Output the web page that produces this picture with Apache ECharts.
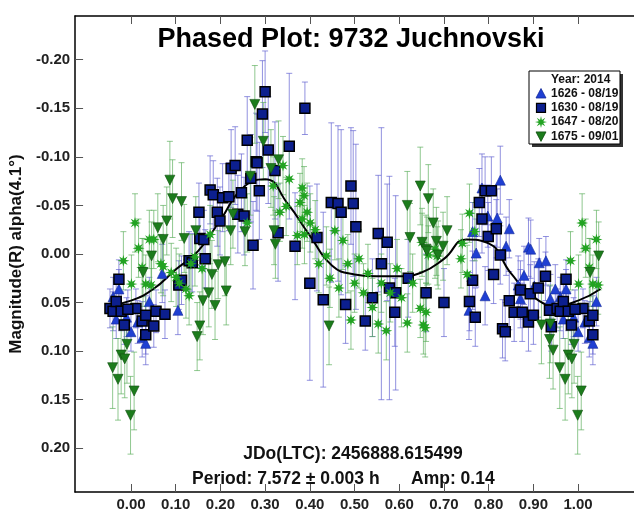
<!DOCTYPE html>
<html>
<head>
<meta charset="utf-8">
<script src="https://cdn.jsdelivr.net/npm/echarts@6/dist/echarts.min.js"></script>
<style>
html,body{margin:0;padding:0;background:#fff;}
#chart{width:634px;height:512px;}
</style>
</head>
<body>
<div id="chart"></div>
<script>
// Phase ticks and magnitude ticks
const phaseTicks = [0, 0.1, 0.2, 0.3, 0.4, 0.5, 0.6, 0.7, 0.8, 0.9, 1.0];
const magTicks = [-0.20, -0.15, -0.10, -0.05, 0.00, 0.05, 0.10, 0.15, 0.20];

// Sessions: [phase, magnitude, error]
const s1626 = [
  [0.000,0.080,0.020],[0.015,0.070,0.022],[0.025,0.086,0.020],[0.033,0.092,0.022],[0.041,0.049,0.025],
  [0.070,0.020,0.030],[0.105,0.058,0.025],
  [0.756,0.058,0.030],[0.764,-0.023,0.030],[0.772,-0.001,0.035],[0.785,-0.068,0.035],[0.792,0.043,0.030],
  [0.798,-0.039,0.032],[0.819,-0.037,0.030],[0.826,-0.076,0.035],[0.839,-0.008,0.030],[0.846,-0.026,0.030],
  [0.866,0.032,0.030],[0.871,0.046,0.030],[0.879,0.022,0.030],[0.889,-0.007,0.030],[0.894,-0.005,0.030],
  [0.902,0.033,0.025],[0.913,0.009,0.025],[0.928,0.007,0.025],[0.938,0.046,0.025],[0.949,0.036,0.025],
  [0.960,0.044,0.020],[0.967,0.067,0.020],[0.973,0.036,0.020],[0.990,0.065,0.020]
];

const s1630 = [
  [0.011,0.056,0.020],[0.025,0.069,0.020],[0.033,0.063,0.020],[0.033,0.083,0.020],[0.051,0.074,0.022],
  [0.056,0.059,0.022],[0.076,0.062,0.025],[0.107,0.032,0.025],[0.113,0.027,0.025],[0.130,0.007,0.030],
  [0.137,0.009,0.030],[0.152,-0.043,0.030],[0.154,-0.016,0.030],[0.163,-0.015,0.030],[0.166,0.005,0.030],
  [0.177,-0.066,0.035],[0.184,-0.061,0.035],[0.193,-0.043,0.035],[0.199,-0.034,0.035],[0.205,-0.058,0.035],
  [0.219,-0.059,0.035],[0.224,-0.088,0.040],[0.233,-0.091,0.040],[0.239,-0.041,0.040],[0.247,-0.063,0.040],
  [0.253,-0.039,0.040],[0.260,-0.117,0.045],[0.268,-0.078,0.045],[0.273,-0.009,0.045],[0.280,-0.095,0.050],
  [0.282,-0.094,0.050],[0.287,-0.065,0.050],[0.294,-0.144,0.055],[0.300,-0.167,0.042],[0.307,-0.107,0.055],
  [0.322,-0.086,0.050],[0.329,-0.022,0.050],[0.354,-0.111,0.075],[0.367,-0.008,0.055],[0.389,-0.150,0.027],
  [0.400,0.030,0.100],[0.416,-0.017,0.055],[0.430,0.047,0.090],[0.448,-0.053,0.082],[0.463,-0.052,0.080],
  [0.470,-0.043,0.085],[0.480,0.052,0.040],[0.492,-0.070,0.060],[0.497,-0.052,0.075],[0.503,-0.028,0.085],
  [0.524,0.069,0.030],[0.540,0.045,0.040],[0.553,-0.021,0.060],[0.560,0.010,0.140],[0.573,-0.012,0.060],
  [0.578,0.035,0.115],[0.590,0.060,0.035],[0.592,0.040,0.100],
  [0.620,0.025,0.040],[0.660,0.040,0.040],[0.700,0.050,0.035],[0.757,0.049,0.030],[0.764,0.027,0.030],
  [0.770,0.065,0.030],[0.779,-0.053,0.035],[0.785,-0.036,0.035],[0.792,-0.065,0.035],[0.799,-0.018,0.035],
  [0.806,-0.065,0.035],[0.811,0.021,0.030],[0.817,-0.026,0.030],[0.826,0.001,0.030],[0.831,0.077,0.030],
  [0.837,0.080,0.030],[0.846,0.048,0.030],[0.857,0.060,0.030],[0.871,0.037,0.030],[0.875,0.060,0.030],
  [0.889,0.070,0.030],[0.893,0.041,0.030],[0.900,0.063,0.030],[0.911,0.035,0.030],[0.927,0.023,0.025],
  [0.936,0.058,0.025],[0.940,0.075,0.025],[0.953,0.056,0.020],[0.960,0.059,0.020],[0.967,0.049,0.020],
  [0.973,0.026,0.020],[0.978,0.059,0.020],[0.985,0.073,0.020],[0.993,0.057,0.020]
];

const s1647 = [
  [0.001,0.031,0.030],[0.009,-0.032,0.030],[0.017,-0.006,0.030],[0.025,0.014,0.030],[0.033,0.031,0.030],
  [0.041,-0.015,0.030],[0.045,0.032,0.030],[0.051,-0.015,0.030],[0.067,0.010,0.030],[0.072,0.013,0.030],
  [0.090,0.019,0.030],[0.101,0.024,0.030],[0.108,0.030,0.030],[0.123,0.036,0.030],[0.130,0.043,0.030],
  [0.134,0.010,0.030],[0.143,0.003,0.030],[0.159,0.015,0.030],[0.177,-0.020,0.030],[0.260,-0.032,0.030],
  [0.318,-0.070,0.030],[0.333,-0.043,0.030],[0.340,-0.091,0.030],[0.347,-0.049,0.030],[0.354,-0.077,0.030],
  [0.372,-0.019,0.030],[0.378,-0.053,0.030],[0.383,-0.068,0.030],[0.383,-0.036,0.030],[0.387,-0.060,0.030],
  [0.388,-0.020,0.030],[0.394,-0.043,0.030],[0.401,-0.032,0.030],[0.412,-0.025,0.030],[0.420,0.010,0.030],
  [0.437,0.002,0.030],[0.445,0.025,0.030],[0.456,-0.024,0.030],[0.465,0.035,0.030],[0.474,-0.014,0.030],
  [0.485,0.010,0.030],[0.492,0.068,0.030],[0.500,0.030,0.030],[0.510,0.005,0.030],[0.520,0.040,0.030],
  [0.530,0.020,0.030],[0.540,0.055,0.030],[0.553,0.072,0.030],[0.560,0.030,0.030],[0.571,0.079,0.030],
  [0.580,0.040,0.030],[0.595,0.015,0.030],[0.605,0.045,0.030],[0.618,0.071,0.030],[0.630,0.030,0.030],
  [0.647,0.056,0.030],[0.651,-0.012,0.030],[0.654,0.073,0.030],[0.658,0.076,0.030],[0.660,0.060,0.030],
  [0.665,0.001,0.030],[0.680,-0.005,0.030],[0.685,0.002,0.030],[0.738,0.005,0.030],[0.741,-0.011,0.030],
  [0.752,0.021,0.030],[0.757,-0.042,0.030],[0.769,-0.023,0.030],[0.983,0.007,0.030]
];

const s1675 = [
  [0.007,0.141,0.040],[0.027,0.019,0.035],[0.046,0.002,0.035],[0.060,-0.027,0.035],[0.072,-0.015,0.035],
  [0.080,-0.034,0.035],[0.087,-0.076,0.040],[0.093,-0.057,0.040],[0.113,-0.054,0.040],[0.119,-0.016,0.035],
  [0.145,-0.024,0.035],[0.148,0.085,0.035],[0.154,0.074,0.035],[0.161,0.048,0.035],[0.174,0.040,0.035],
  [0.181,0.021,0.035],[0.188,0.053,0.035],[0.195,0.011,0.035],[0.210,0.008,0.035],[0.213,0.038,0.035],
  [0.223,-0.024,0.035],[0.228,-0.041,0.035],[0.255,-0.023,0.035],[0.267,-0.080,0.040],[0.277,-0.154,0.040],
  [0.296,-0.116,0.040],[0.313,-0.088,0.040],[0.320,-0.024,0.035],[0.323,-0.010,0.035],[0.330,-0.097,0.040],
  [0.443,0.074,0.040],[0.618,-0.050,0.035],[0.624,-0.017,0.035],[0.647,-0.070,0.040],[0.651,-0.012,0.035],
  [0.660,-0.005,0.035],[0.662,-0.003,0.035],[0.665,-0.057,0.035],[0.676,-0.032,0.035],[0.683,-0.013,0.035],
  [0.687,0.001,0.035],[0.698,-0.008,0.035],[0.707,-0.024,0.035],[0.918,0.073,0.040],[0.936,0.088,0.040],
  [0.938,0.072,0.040],[0.944,0.099,0.040],[0.959,0.117,0.042],[0.971,0.129,0.042],[0.978,0.104,0.040],
  [0.986,0.108,0.040],[0.991,0.093,0.040],[0.999,0.166,0.040]
];

// Fourier fit, read at phase steps of 0.05 from -0.05 to 1.05
const fitPhase = [-0.05,0.00,0.05,0.10,0.15,0.20,0.25,0.30,0.35,0.40,0.45,0.50,0.55,0.60,0.65,0.70,0.75,0.80,0.85,0.90,0.95,1.00,1.05];
const fitMag   = [0.053,0.048,0.036,0.016,-0.003,-0.035,-0.068,-0.077,-0.052,-0.019,0.012,0.021,0.023,0.023,0.019,0.005,-0.015,-0.011,0.020,0.044,0.053,0.048,0.036];

const sessionNames = ['1626 - 08/19', '1630 - 08/19', '1647 - 08/20', '1675 - 09/01'];

// Points are shown over the phase window -0.05 .. 1.05 (repeated past the cycle edges)
function wrapRows(rows) {
  const out = [];
  rows.forEach(r => {
    [r[0] - 1, r[0], r[0] + 1].forEach(q => {
      if (q >= -0.05 && q <= 1.05) out.push([q, r[1], r[2]]);
    });
  });
  return out;
}

function starPath(n, rIn) {
  let d = '';
  for (let i = 0; i < 2 * n; i++) {
    const r = i % 2 ? rIn : 1;
    const a = Math.PI * i / n - Math.PI / 2;
    d += (i ? 'L' : 'M') + (50 + 50 * r * Math.cos(a)).toFixed(2) + ' ' + (50 + 50 * r * Math.sin(a)).toFixed(2);
  }
  return d + 'Z';
}
const STAR = 'path://' + starPath(8, 0.42);

function errorBars(rows, color, z) {
  return {
    type: 'custom', z: z, silent: true, data: rows,
    encode: { x: 0, y: 1 },
    renderItem: function (params, api) {
      const x = api.value(0), y = api.value(1), e = api.value(2);
      const a = api.coord([x, y - e]), b = api.coord([x, y + e]);
      const w = 3;
      const style = { stroke: color, lineWidth: 1 };
      return {
        type: 'group',
        children: [
          { type: 'line', shape: { x1: a[0], y1: a[1], x2: b[0], y2: b[1] }, style: style },
          { type: 'line', shape: { x1: a[0] - w, y1: a[1], x2: a[0] + w, y2: a[1] }, style: style },
          { type: 'line', shape: { x1: b[0] - w, y1: b[1], x2: b[0] + w, y2: b[1] }, style: style }
        ]
      };
    }
  };
}

const COL = {
  tri: '#1f3fd2', triEdge: '#142a9a',
  sq: '#0c1f8e', sqEdge: '#000000',
  star: '#22a322',
  dtri: '#1c7c1c', dtriEdge: '#0f4f0f',
  blueBar: 'rgba(100,100,210,0.7)',
  greenBar: 'rgba(85,170,85,0.65)'
};

const d1626 = wrapRows(s1626), d1630 = wrapRows(s1630), d1647 = wrapRows(s1647), d1675 = wrapRows(s1675);
const fitData = fitPhase.map((p, i) => [p, fitMag[i]]);

const FONT = 'Liberation Sans, Arial, sans-serif';
const chart = echarts.init(document.getElementById('chart'), null, { renderer: 'canvas' });

const axisLine = { show: true, onZero: false, lineStyle: { color: '#000', width: 1.5 } };

// Legend box drawn as graphics
const LX = 529, LY = 71, LW = 91, LH = 73;
const legendRows = [93.5, 107.8, 122.1, 136.4];
function legendSymbol(i, cx, cy) {
  if (i === 0) return { type: 'polygon', shape: { points: [[cx, cy - 5], [cx + 5, cy + 4.5], [cx - 5, cy + 4.5]] }, style: { fill: COL.tri, stroke: COL.triEdge, lineWidth: 0.8 } };
  if (i === 1) return { type: 'rect', shape: { x: cx - 4.5, y: cy - 4.5, width: 9, height: 9 }, style: { fill: COL.sq, stroke: '#000', lineWidth: 1.2 } };
  if (i === 2) {
    const pts = [];
    for (let k = 0; k < 16; k++) {
      const r = k % 2 ? 2.4 : 6, a = Math.PI * k / 8 - Math.PI / 2;
      pts.push([cx + r * Math.cos(a), cy + r * Math.sin(a)]);
    }
    return { type: 'polygon', shape: { points: pts }, style: { fill: COL.star } };
  }
  return { type: 'polygon', shape: { points: [[cx - 5, cy - 4.5], [cx + 5, cy - 4.5], [cx, cy + 5]] }, style: { fill: COL.dtri, stroke: COL.dtriEdge, lineWidth: 0.8 } };
}
const legendGraphics = [
  { type: 'rect', shape: { x: LX + 3, y: LY + 3, width: LW, height: LH }, style: { fill: '#333' }, z: 100 },
  { type: 'rect', shape: { x: LX, y: LY, width: LW, height: LH }, style: { fill: '#fff', stroke: '#000', lineWidth: 1 }, z: 101 },
  { type: 'text', x: 551, y: 79.5, style: { text: 'Year: 2014', font: 'bold 12px ' + FONT, fill: '#111', textVerticalAlign: 'middle' }, z: 102 }
];
sessionNames.forEach((name, i) => {
  const g = legendSymbol(i, 541, legendRows[i]);
  g.z = 102;
  legendGraphics.push(g);
  legendGraphics.push({ type: 'text', x: 551, y: legendRows[i], style: { text: name, font: 'bold 12px ' + FONT, fill: '#111', textVerticalAlign: 'middle' }, z: 102 });
});

const option = {
  animation: false,
  backgroundColor: '#fff',
  grid: { left: 68, top: 16, width: 579, height: 479, containLabel: false },
  xAxis: [
    {
      type: 'value', min: -0.125, max: 1.125, position: 'bottom',
      axisLine: axisLine,
      axisTick: { show: true, inside: true, length: 8, lineStyle: { color: '#555', width: 1 }, customValues: phaseTicks },
      axisLabel: { show: true, customValues: phaseTicks, formatter: v => v.toFixed(2), margin: 5,
        fontFamily: FONT, fontWeight: 'bold', fontSize: 15, color: '#222' },
      splitLine: { show: false }
    },
    {
      type: 'value', min: -0.125, max: 1.125, position: 'top',
      axisLine: axisLine,
      axisTick: { show: true, inside: true, length: 8, lineStyle: { color: '#555', width: 1 }, customValues: phaseTicks },
      axisLabel: { show: false },
      splitLine: { show: false }
    }
  ],
  yAxis: [
    {
      type: 'value', min: -0.245, max: 0.245, inverse: true, position: 'left',
      axisLine: axisLine,
      axisTick: { show: true, inside: true, length: 8, lineStyle: { color: '#555', width: 1 }, customValues: magTicks },
      axisLabel: { show: true, customValues: magTicks, formatter: v => v.toFixed(2), margin: 5,
        fontFamily: FONT, fontWeight: 'bold', fontSize: 15, color: '#222' },
      splitLine: { show: false },
      name: 'Magnitude(R) alpha(4.1°)', nameLocation: 'middle', nameGap: 43, nameRotate: 90,
      nameTextStyle: { fontFamily: FONT, fontWeight: 'bold', fontSize: 17, color: '#111' }
    }
  ],
  graphic: [
    { type: 'text', style: { text: 'Phased Plot: 9732 Juchnovski', x: 351, y: 40, font: 'bold 27px ' + FONT, fill: '#000', textAlign: 'center', textVerticalAlign: 'middle' }, z: 50 },
    { type: 'text', style: { text: 'JDo(LTC): 2456888.615499', x: 353, y: 454, font: 'bold 17.5px ' + FONT, fill: '#111', textAlign: 'center', textVerticalAlign: 'middle' }, z: 50 },
    { type: 'text', style: { text: 'Period: 7.572 \u00b1 0.003 h', x: 192, y: 479, font: 'bold 17.5px ' + FONT, fill: '#111', textAlign: 'left', textVerticalAlign: 'middle' }, z: 50 },
    { type: 'text', style: { text: 'Amp: 0.14', x: 411, y: 479, font: 'bold 17.5px ' + FONT, fill: '#111', textAlign: 'left', textVerticalAlign: 'middle' }, z: 50 }
  ].concat(legendGraphics),
  series: [
    errorBars(d1626, COL.blueBar, 2),
    errorBars(d1630, COL.blueBar, 2),
    errorBars(d1647, COL.greenBar, 2),
    errorBars(d1675, COL.greenBar, 2),
    {
      type: 'line', data: fitData, smooth: 0.5, symbol: 'none', z: 3, silent: true,
      lineStyle: { color: '#000', width: 2 }
    },
    {
      name: sessionNames[0], type: 'scatter', data: d1626, z: 4, symbol: 'triangle', symbolSize: [10, 10],
      itemStyle: { color: COL.tri, borderColor: COL.triEdge, borderWidth: 0.6, opacity: 1 }
    },
    {
      name: sessionNames[1], type: 'scatter', data: d1630, z: 5, symbol: 'rect', symbolSize: 10,
      itemStyle: { color: COL.sq, borderColor: COL.sqEdge, borderWidth: 1.5, opacity: 1 }
    },
    {
      name: sessionNames[2], type: 'scatter', data: d1647, z: 6, symbol: STAR, symbolSize: 12,
      itemStyle: { color: COL.star, opacity: 1 }
    },
    {
      name: sessionNames[3], type: 'scatter', data: d1675, z: 7, symbol: 'triangle', symbolRotate: 180, symbolSize: [10, 10],
      itemStyle: { color: COL.dtri, borderColor: COL.dtriEdge, borderWidth: 0.6, opacity: 1 }
    }
  ]
};
chart.setOption(option);
</script>
</body>
</html>
